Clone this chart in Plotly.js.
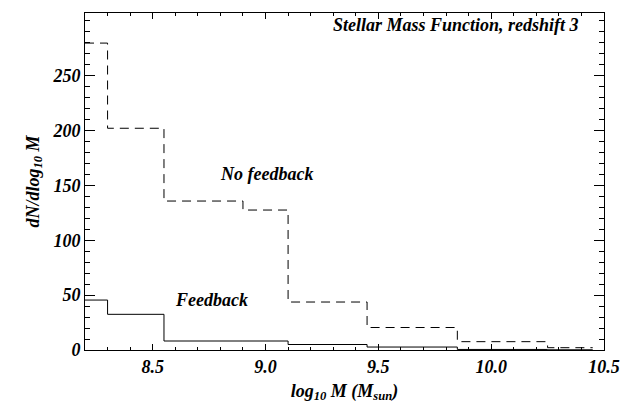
<!DOCTYPE html>
<html>
<head>
<meta charset="utf-8">
<script src="https://cdn.plot.ly/plotly-3.0.1.min.js"></script>
<style>html,body{margin:0;padding:0;background:#fff;}#chart{width:636px;height:405px;}</style>
</head>
<body>
<div id="chart"></div>
<script>
// Bin edges (log10 M)
const binEdges = [8.2, 8.3, 8.55, 8.9, 9.1, 9.45, 9.85, 10.25, 10.45];
// dN/dlog10 M per bin
const noFeedback = [279.6, 202, 135.7, 127.5, 43.7, 20.5, 7.6, 2.1];
const feedback   = [45.5, 32.5, 8.2, 8.2, 5.0, 2.7, 0.5, 0.2];
const xTickVals = [8.5, 9.0, 9.5, 10.0, 10.5];
const xTickText = ['8.5', '9.0', '9.5', '10.0', '10.5'];
const yTickVals = [0, 50, 100, 150, 200, 250];
const yTickText = ['0', '50', '100', '150', '200', '250'];

function stepY(vals){ return vals.concat([vals[vals.length-1]]); }
const bi = (s) => '<b><i>' + s + '</i></b>';

const F = (size) => ({family: '"Liberation Serif", "Times New Roman", serif', color: '#000', size: size});
const FT = (size) => ({family: '"Liberation Serif", "Times New Roman", serif', color: '#000', size: size,
                       weight: 'bold', style: 'italic'});

const traces = [
  {x: binEdges, y: stepY(noFeedback), type: 'scatter', mode: 'lines',
   line: {shape: 'hv', color: '#000', width: 1, dash: '9px,6px'}, hoverinfo: 'none'},
  {x: binEdges, y: stepY(feedback), type: 'scatter', mode: 'lines',
   line: {shape: 'hv', color: '#000', width: 1}, hoverinfo: 'none'}
];

const axisCommon = {
  showgrid: false, zeroline: false, showline: true, linecolor: '#000', linewidth: 1,
  mirror: 'allticks', ticks: 'inside', tickcolor: '#000', tickwidth: 1,
  tickfont: FT(18)
};

const layout = {
  width: 636, height: 405,
  margin: {l: 85, r: 32, t: 13, b: 55},
  paper_bgcolor: '#fff', plot_bgcolor: '#fff',
  showlegend: false,
  xaxis: Object.assign({}, axisCommon, {
    range: [8.2, 10.5], tickmode: 'array', tickvals: xTickVals, ticktext: xTickText,
    ticklen: 6,
    minor: {dtick: 0.1, ticks: 'inside', ticklen: 3, tickcolor: '#000', tickwidth: 1},
    title: {text: bi('log<sub>10</sub> M (M<sub>sun</sub>)'), font: F(18), standoff: 8}
  }),
  yaxis: Object.assign({}, axisCommon, {
    range: [0, 307], tickmode: 'array', tickvals: yTickVals, ticktext: yTickText,
    ticklen: 10,
    minor: {dtick: 10, ticks: 'inside', ticklen: 5, tickcolor: '#000', tickwidth: 1},
    title: {text: bi('dN/dlog<sub>10</sub> M'), font: F(18), standoff: 8}
  }),
  annotations: [
    {xref: 'paper', yref: 'paper', x: 0.955, y: 0.965, xanchor: 'right', yanchor: 'middle',
     text: 'Stellar Mass Function, redshift 3', showarrow: false, font: FT(18)},
    {xref: 'paper', yref: 'paper', x: 0.349, y: 0.522, xanchor: 'center', yanchor: 'middle',
     text: 'No feedback', showarrow: false, font: FT(18)},
    {xref: 'paper', yref: 'paper', x: 0.243, y: 0.149, xanchor: 'center', yanchor: 'middle',
     text: 'Feedback', showarrow: false, font: FT(18)}
  ]
};

Plotly.newPlot('chart', traces, layout, {staticPlot: true, displayModeBar: false});
</script>
</body>
</html>
